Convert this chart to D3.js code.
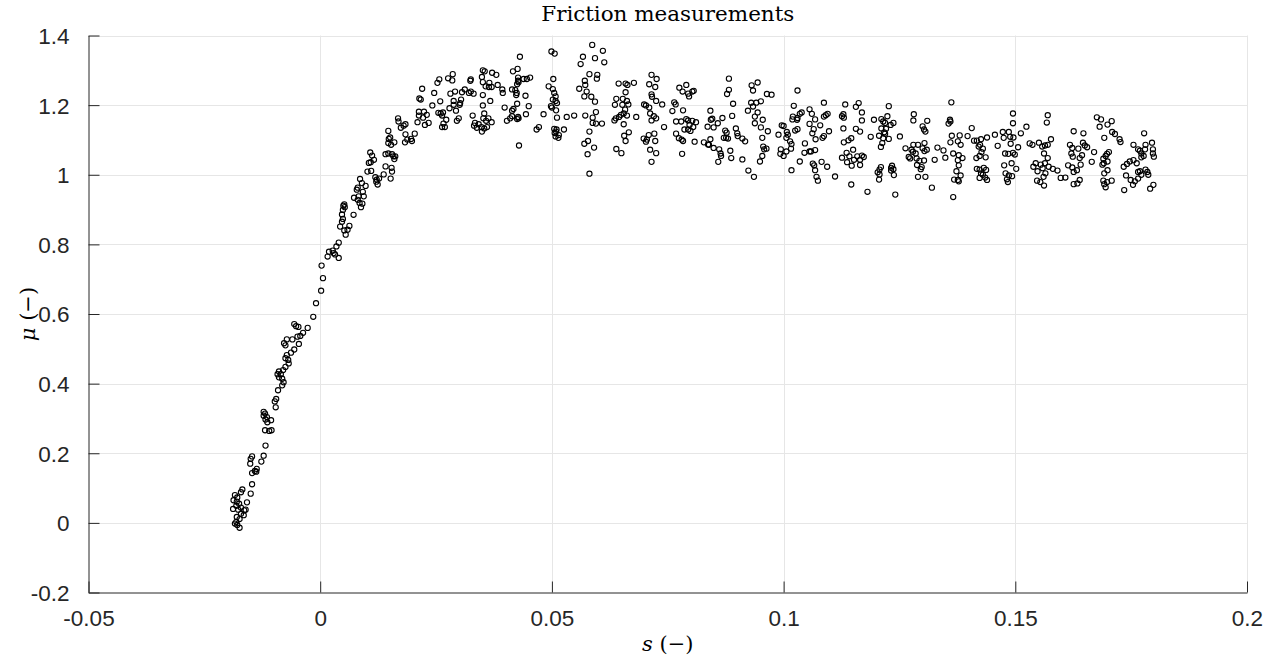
<!DOCTYPE html>
<html>
<head>
<meta charset="utf-8">
<script src="https://cdn.jsdelivr.net/npm/d3@7"></script>
<style>
  html, body { margin: 0; padding: 0; background: #ffffff; }
  svg { display: block; }
</style>
</head>
<body>
<svg id="chart" width="1276" height="662"></svg>
<script>
// ---- Data (s, mu) ----
const risingPoints = [
  [-0.0009,0.631],[-0.0015,0.592],[-0.0056,0.571],[-0.0052,0.565],[-0.0047,0.563],[-0.0027,0.560],[-0.0037,0.546],
  [-0.0043,0.537],[-0.0049,0.535],[-0.0060,0.527],[-0.0072,0.527],[-0.0078,0.516],[-0.0075,0.510],[-0.0046,0.514],
  [-0.0056,0.498],[-0.0063,0.489],[-0.0072,0.482],[-0.0075,0.473],[-0.0069,0.468],[-0.0068,0.458],[-0.0075,0.448],
  [-0.0080,0.439],[-0.0089,0.435],[-0.0092,0.427],[-0.0085,0.427],[-0.0089,0.418],[-0.0082,0.414],[-0.0079,0.404],
  [-0.0082,0.395],[-0.0091,0.381],[-0.0095,0.356],[-0.0098,0.349],[-0.0096,0.332],[-0.0122,0.319],[-0.0119,0.314],
  [-0.0122,0.308],[-0.0115,0.304],[-0.0118,0.297],[-0.0114,0.289],[-0.0106,0.295],[-0.0119,0.266],[-0.0110,0.264],
  [-0.0105,0.266],[-0.0118,0.222],[-0.0147,0.191],[-0.0150,0.184],[-0.0122,0.193],[-0.0127,0.176],[-0.0151,0.170],
  [-0.0137,0.155],[-0.0141,0.149],[-0.0147,0.143],[-0.0138,0.147],[-0.0147,0.111],[-0.0150,0.084],
  [-0.0168,0.096],[-0.0171,0.088],[-0.0184,0.080],[-0.0179,0.073],[-0.0187,0.065],[-0.0180,0.061],[-0.0175,0.055],
  [-0.0158,0.059],[-0.0181,0.049],[-0.0188,0.040],[-0.0177,0.038],[-0.0171,0.044],[-0.0164,0.036],[-0.0161,0.038],
  [-0.0171,0.026],[-0.0180,0.017],[-0.0174,0.011],[-0.0181,0.003],[-0.0184,-0.002],[-0.0174,-0.014],[-0.0179,-0.006],
  [-0.0165,0.022],
  [0.0002,0.667],[0.0006,0.703],[0.0003,0.739],[0.0019,0.779],[0.0016,0.765],[0.0027,0.782],[0.0032,0.771],
  [0.0035,0.794],[0.0040,0.805],[0.0040,0.761],[0.0029,0.775],
  [0.0043,0.851],[0.0047,0.865],[0.0052,0.840],[0.0059,0.842],[0.0055,0.828],[0.0063,0.853],[0.0049,0.873],
  [0.0047,0.886],[0.0049,0.899],[0.0050,0.911],[0.0052,0.915],[0.0053,0.907],[0.0072,0.885],
  [0.0073,0.934],[0.0081,0.963],[0.0079,0.957],[0.0086,0.988],[0.0083,0.938],[0.0088,0.907],[0.0085,0.919],
  [0.0091,0.917],[0.0094,0.938],[0.0092,0.951],[0.0098,0.968],[0.0081,0.928],[0.0090,0.976],
  [0.0108,1.064],[0.0105,1.034],[0.0109,1.036],[0.0116,1.043],[0.0110,1.011],[0.0102,1.009],[0.0112,1.055],
  [0.0119,0.993],[0.0121,0.980],[0.0124,0.972],[0.0122,0.986],[0.0127,0.989],
  [0.0147,1.126],[0.0148,1.103],[0.0147,1.091],[0.0153,1.086],[0.0160,1.093],[0.0151,1.107],
  [0.0141,1.059],[0.0147,1.061],[0.0155,1.059],[0.0158,1.053],[0.0162,1.053],[0.0160,1.045],
  [0.0141,1.024],[0.0137,1.001],[0.0154,1.020],[0.0155,1.009],[0.0152,0.989],
  [0.0168,1.162],[0.0169,1.153],[0.0174,1.135],[0.0180,1.141],[0.0184,1.145],
  [0.0184,1.116],[0.0204,1.118],[0.0183,1.093],[0.0188,1.101],[0.0196,1.103],[0.0198,1.097],
  [0.0213,1.181],[0.0213,1.170],[0.0224,1.181],[0.0222,1.164],[0.0230,1.172],[0.0210,1.151],[0.0226,1.143],
  [0.0234,1.149],[0.0217,1.216]
];

const peakPoints = [
  [0.0214,1.219],[0.0220,1.247],[0.0246,1.235],[0.0242,1.199],[0.0259,1.211],[0.0253,1.264],[0.0257,1.274],
  [0.0276,1.277],[0.0286,1.289],[0.0285,1.271],
  [0.0255,1.178],[0.0260,1.176],[0.0265,1.179],[0.0263,1.170],[0.0272,1.158],[0.0266,1.147],[0.0263,1.137],[0.0269,1.137],
  [0.0281,1.233],[0.0291,1.239],[0.0288,1.212],[0.0279,1.191],[0.0288,1.201],[0.0293,1.184],[0.0299,1.162],
  [0.0295,1.155],[0.0302,1.206],[0.0304,1.216],[0.0301,1.201],
  [0.0306,1.237],[0.0312,1.245],[0.0321,1.235],[0.0325,1.239],[0.0331,1.233],[0.0325,1.274],[0.0324,1.270],
  [0.0329,1.170],[0.0334,1.149],[0.0332,1.141],[0.0342,1.145],[0.0338,1.135],[0.0348,1.137],[0.0349,1.124],
  [0.0351,1.300],[0.0355,1.297],[0.0371,1.293],[0.0380,1.287],[0.0349,1.281],[0.0351,1.266],[0.0357,1.254],
  [0.0365,1.264],[0.0364,1.252],[0.0370,1.252],[0.0383,1.258],[0.0393,1.245],[0.0394,1.235],[0.0351,1.229],[0.0367,1.212],
  [0.0351,1.199],[0.0354,1.176],[0.0363,1.162],[0.0358,1.155],[0.0352,1.162],[0.0370,1.151],[0.0360,1.137],[0.0354,1.133],
  [0.0398,1.193],[0.0403,1.155],[0.0410,1.162],[0.0414,1.184],[0.0417,1.189],[0.0414,1.168],[0.0427,1.166],
  [0.0428,1.162],[0.0425,1.160],
  [0.0416,1.297],[0.0426,1.304],[0.0431,1.339],[0.0414,1.245],[0.0421,1.243],[0.0424,1.235],[0.0427,1.279],
  [0.0427,1.270],[0.0428,1.266],[0.0425,1.260],[0.0439,1.275],[0.0446,1.275],[0.0453,1.279],[0.0443,1.227],
  [0.0425,1.204],[0.0423,1.229],[0.0429,1.084],[0.0450,1.197],[0.0444,1.174],[0.0472,1.137],[0.0467,1.130],[0.0482,1.174],
  [0.0499,1.354],[0.0506,1.348],[0.0503,1.275],[0.0493,1.254],[0.0502,1.246],[0.0505,1.235],[0.0508,1.225],
  [0.0502,1.216],[0.0508,1.212],[0.0511,1.206],[0.0500,1.193],[0.0509,1.185],[0.0511,1.164],[0.0505,1.132],
  [0.0509,1.124],[0.0508,1.110],[0.0514,1.106],[0.0498,1.197],
  [0.0562,1.318],[0.0567,1.339],[0.0587,1.373],[0.0593,1.335],[0.0610,1.356],[0.0613,1.323],
  [0.0581,1.289],[0.0571,1.270],[0.0572,1.258],[0.0559,1.247],[0.0575,1.239],[0.0570,1.225],[0.0585,1.224],
  [0.0593,1.210],[0.0598,1.287],[0.0597,1.276],
  [0.0532,1.166],[0.0548,1.170],[0.0572,1.170],[0.0588,1.164],[0.0595,1.180],[0.0588,1.149],[0.0595,1.147],
  [0.0608,1.147],[0.0526,1.130],[0.0510,1.130],[0.0515,1.114],[0.0506,1.120],
  [0.0581,1.124],[0.0578,1.097],[0.0570,1.089],[0.0591,1.078],[0.0577,1.059],[0.0581,1.003],
  [0.0639,1.218],[0.0636,1.201],[0.0644,1.262],[0.0659,1.262],[0.0663,1.258],[0.0677,1.264],[0.0659,1.237],
  [0.0653,1.218],[0.0662,1.212],[0.0665,1.202],[0.0652,1.201],[0.0658,1.187],[0.0655,1.176],[0.0649,1.172],
  [0.0645,1.166],[0.0638,1.162],[0.0635,1.156],[0.0662,1.170],[0.0682,1.166],[0.0655,1.145],[0.0666,1.122],
  [0.0656,1.112],[0.0659,1.097],[0.0639,1.074],[0.0650,1.062],
  [0.0715,1.287],[0.0726,1.275],[0.0710,1.260],[0.0723,1.252],[0.0715,1.231],[0.0716,1.224],[0.0725,1.212],
  [0.0738,1.202],[0.0699,1.202],[0.0703,1.199],[0.0710,1.193],[0.0712,1.176],[0.0720,1.168],[0.0725,1.162],
  [0.0715,1.156],[0.0742,1.137],[0.0698,1.104],[0.0709,1.114],[0.0705,1.101],[0.0721,1.118],[0.0723,1.097],
  [0.0703,1.095],[0.0712,1.072],[0.0725,1.062],[0.0715,1.037],
  [0.0775,1.250],[0.0790,1.258],[0.0782,1.239],[0.0794,1.233],[0.0803,1.239],[0.0806,1.241],[0.0796,1.225],
  [0.0764,1.208],[0.0767,1.202],[0.0760,1.183],[0.0783,1.185],[0.0779,1.153],[0.0768,1.153],[0.0790,1.160],
  [0.0794,1.156],[0.0803,1.155],[0.0811,1.151],[0.0797,1.143],[0.0805,1.137],[0.0794,1.130],[0.0786,1.130],
  [0.0799,1.126],[0.0768,1.118],[0.0774,1.105],[0.0780,1.101],[0.0783,1.097],[0.0808,1.095],[0.0828,1.093],
  [0.0837,1.087],[0.0781,1.060]
];

const plateauPoints = [
  [0.0882,1.276],[0.0882,1.244],[0.0878,1.232],[0.0891,1.204],[0.0889,1.169],[0.0868,1.163],[0.0842,1.184],
  [0.0843,1.158],[0.0846,1.161],[0.0836,1.138],[0.0849,1.136],[0.0858,1.148],[0.0842,1.102],[0.0839,1.086],
  [0.0849,1.077],[0.0861,1.073],[0.0864,1.061],[0.0865,1.054],[0.0859,1.037],[0.0874,1.127],[0.0877,1.121],
  [0.0876,1.106],[0.0880,1.104],[0.0871,1.106],[0.0885,1.069],[0.0887,1.048],[0.0897,1.133],[0.0900,1.119],
  [0.0901,1.111],[0.0911,1.104],[0.0917,1.096],[0.0911,1.044],
  [0.0931,1.257],[0.0934,1.242],[0.0944,1.265],[0.0964,1.232],[0.0974,1.230],[0.0930,1.207],[0.0941,1.207],
  [0.0951,1.211],[0.0934,1.196],[0.0923,1.184],[0.0944,1.179],[0.0938,1.167],[0.0955,1.158],[0.0938,1.148],
  [0.0951,1.136],[0.0966,1.125],[0.0954,1.106],[0.0956,1.081],[0.0963,1.075],[0.0958,1.073],[0.0954,1.054],
  [0.0949,1.038],[0.0924,1.012],[0.0936,0.994],
  [0.0996,1.142],[0.1000,1.140],[0.0989,1.115],[0.1007,1.123],[0.1009,1.115],[0.1006,1.106],[0.1014,1.096],
  [0.1017,1.088],[0.1016,1.075],[0.1006,1.067],[0.0994,1.073],[0.0993,1.060],[0.1000,1.054],[0.1017,1.013],
  [0.1030,1.242],[0.1022,1.198],[0.1020,1.167],[0.1019,1.159],[0.1029,1.158],[0.1035,1.175],[0.1039,1.179],
  [0.1030,1.163],[0.1025,1.127],[0.1030,1.131],[0.1046,1.090],[0.1045,1.063],[0.1056,1.067],[0.1059,1.067],
  [0.1068,1.071],[0.1035,1.038],[0.1056,1.188],[0.1061,1.175],[0.1068,1.159],[0.1056,1.146],[0.1065,1.131],
  [0.1062,1.119],[0.1069,1.102],[0.1079,1.142],[0.1087,1.167],[0.1091,1.171],[0.1087,1.207],[0.1095,1.175],
  [0.1098,1.125],[0.1087,1.111],[0.1084,1.106],[0.1063,1.032],[0.1066,1.027],[0.1068,1.013],[0.1071,0.994],
  [0.1074,0.983],[0.1082,1.037],[0.1094,1.023],
  [0.1133,1.202],[0.1156,1.195],[0.1162,1.206],[0.1169,1.179],[0.1169,1.156],[0.1129,1.174],[0.1126,1.168],
  [0.1130,1.164],[0.1129,1.133],[0.1156,1.132],[0.1165,1.124],[0.1146,1.105],[0.1140,1.099],[0.1130,1.093],
  [0.1150,1.072],[0.1136,1.063],[0.1126,1.049],[0.1142,1.053],[0.1152,1.043],[0.1159,1.053],[0.1169,1.055],
  [0.1173,1.051],[0.1165,1.043],[0.1137,1.036],[0.1147,1.026],[0.1165,1.028],[0.1111,0.995],[0.1146,0.972],[0.1181,0.951],
  [0.1227,1.197],[0.1195,1.158],[0.1211,1.160],[0.1224,1.168],[0.1215,1.153],[0.1219,1.149],[0.1231,1.143],
  [0.1237,1.149],[0.1211,1.133],[0.1221,1.132],[0.1217,1.122],[0.1219,1.118],[0.1206,1.112],[0.1188,1.109],
  [0.1215,1.105],[0.1227,1.103],[0.1213,1.091],[0.1210,1.080],[0.1251,1.110],[0.1210,1.022],[0.1207,1.015],
  [0.1203,1.007],[0.1207,1.001],[0.1206,0.986],[0.1234,1.026],[0.1232,1.020],[0.1237,1.016],[0.1232,1.012],
  [0.1238,0.999],[0.1241,0.943],
  [0.1281,1.174],[0.1280,1.156],[0.1310,1.155],[0.1300,1.139],[0.1303,1.130],[0.1306,1.124],[0.1280,1.086],
  [0.1290,1.086],[0.1304,1.091],[0.1263,1.076],[0.1276,1.072],[0.1279,1.066],[0.1285,1.061],[0.1300,1.076],
  [0.1304,1.068],[0.1309,1.072],[0.1270,1.051],[0.1273,1.047],[0.1287,1.047],[0.1293,1.040],[0.1303,1.041],
  [0.1288,1.028],[0.1298,1.022],[0.1296,1.016],[0.1290,0.994],[0.1306,0.994],[0.1320,0.963],[0.1332,1.078],
  [0.1326,1.043],[0.1345,1.070],[0.1349,1.049],
  [0.1362,1.208],[0.1359,1.158],[0.1356,1.147],[0.1360,1.153],[0.1363,1.112],[0.1360,1.093],[0.1366,1.061],
  [0.1368,0.986],[0.1366,0.936]
];

const tailPoints = [
  [0.1380,1.113],[0.1382,1.086],[0.1376,1.096],[0.1378,1.056],[0.1386,1.048],[0.1376,1.042],[0.1378,1.027],
  [0.1373,1.010],[0.1382,0.998],[0.1376,0.985],[0.1378,0.981],
  [0.1406,1.134],[0.1397,1.111],[0.1411,1.098],[0.1417,1.098],[0.1426,1.102],[0.1439,1.107],[0.1424,1.086],
  [0.1421,1.081],[0.1430,1.075],[0.1427,1.065],[0.1423,1.054],[0.1436,1.050],[0.1416,1.048],[0.1417,1.017],
  [0.1423,1.015],[0.1432,1.020],[0.1437,1.014],[0.1426,1.004],[0.1430,1.000],[0.1435,0.992],[0.1439,0.985],[0.1423,0.991],
  [0.1495,1.176],[0.1495,1.148],[0.1524,1.138],[0.1512,1.119],[0.1456,1.115],[0.1473,1.123],[0.1486,1.123],
  [0.1489,1.109],[0.1496,1.107],[0.1475,1.106],[0.1462,1.083],[0.1490,1.089],[0.1506,1.079],[0.1478,1.061],
  [0.1485,1.060],[0.1495,1.063],[0.1499,1.058],[0.1476,1.027],[0.1492,1.033],[0.1502,1.017],[0.1479,1.004],
  [0.1486,0.998],[0.1493,0.996],[0.1482,0.987],[0.1484,0.979],
  [0.1570,1.171],[0.1568,1.150],[0.1531,1.090],[0.1537,1.086],[0.1551,1.092],[0.1558,1.081],[0.1564,1.084],
  [0.1570,1.086],[0.1577,1.102],[0.1562,1.061],[0.1570,1.048],[0.1544,1.033],[0.1555,1.029],[0.1564,1.033],
  [0.1539,1.023],[0.1548,1.010],[0.1559,1.019],[0.1572,1.023],[0.1581,1.017],[0.1565,1.004],[0.1561,0.994],
  [0.1547,0.983],[0.1554,0.979],[0.1562,0.969],[0.1591,1.012],[0.1598,0.991],[0.1608,0.992],
  [0.1626,1.125],[0.1618,1.086],[0.1623,1.077],[0.1621,1.061],[0.1624,1.052],[0.1614,1.027],[0.1623,1.021],
  [0.1626,1.008],[0.1626,0.973],
  [0.1647,1.119],[0.1646,1.092],[0.1650,1.084],[0.1636,1.075],[0.1644,1.056],[0.1639,1.048],[0.1641,1.029],
  [0.1633,1.013],[0.1639,0.985],[0.1634,0.975],[0.1655,1.079],[0.1665,1.037],[0.1670,1.065],
  [0.1676,1.165],[0.1685,1.159],[0.1682,1.138],[0.1699,1.144],[0.1708,1.154],[0.1709,1.123],[0.1715,1.117],
  [0.1692,1.106],[0.1725,1.102],[0.1727,1.094],[0.1702,1.065],[0.1698,1.060],[0.1695,1.054],[0.1690,1.046],
  [0.1691,1.033],[0.1699,1.038],[0.1688,1.029],[0.1699,1.013],[0.1692,1.004],[0.1690,0.983],[0.1698,0.979],
  [0.1692,0.973],[0.1708,0.983],[0.1695,0.964],
  [0.1735,0.956],[0.1734,1.023],[0.1741,1.031],[0.1747,1.038],[0.1755,1.042],[0.1762,1.033],[0.1739,0.998],
  [0.1749,0.985],[0.1754,0.971],[0.1758,0.981],[0.1765,0.989],[0.1765,1.008],[0.1769,1.010],[0.1772,1.000],
  [0.1781,1.015],[0.1785,1.008],[0.1787,1.000],[0.1791,0.960],[0.1798,0.971],[0.1755,1.086],[0.1765,1.073],
  [0.1769,1.069],[0.1772,1.061],[0.1777,1.054],[0.1780,1.073],[0.1781,1.086],[0.1778,1.119],[0.1772,1.050],
  [0.1795,1.092],[0.1797,1.073],[0.1799,1.052],[0.1797,1.061]
];

const xTicks = [-0.05, 0, 0.05, 0.1, 0.15, 0.2];
const xTickLabels = ["-0.05", "0", "0.05", "0.1", "0.15", "0.2"];
const yTicks = [-0.2, 0, 0.2, 0.4, 0.6, 0.8, 1, 1.2, 1.4];
const yTickLabels = ["-0.2", "0", "0.2", "0.4", "0.6", "0.8", "1", "1.2", "1.4"];
const titleText = "Friction measurements";

// ---- Drawing ----
const allPoints = risingPoints.concat(peakPoints, plateauPoints, tailPoints);
const svg = d3.select("#chart");
const plot = { left: 88.5, right: 1247, top: 35.5, bottom: 592.5 };

const x = d3.scaleLinear().domain([-0.05, 0.2]).range([plot.left, plot.right]);
const y = d3.scaleLinear().domain([-0.2, 1.4]).range([plot.bottom, plot.top]);

const tickFont = "'Liberation Sans', Arial, Helvetica, sans-serif";
const serifFont = "'DejaVu Serif', 'Liberation Serif', serif";

// grid
const grid = svg.append("g");
grid.selectAll("line.vg").data(xTicks.slice(1)).enter().append("line")
  .attr("x1", d => Math.round(x(d)) + 0.5).attr("x2", d => Math.round(x(d)) + 0.5)
  .attr("y1", plot.top).attr("y2", plot.bottom)
  .attr("stroke", "#e6e6e6").attr("stroke-width", 1);
grid.selectAll("line.hg").data(yTicks.slice(1)).enter().append("line")
  .attr("y1", d => Math.round(y(d)) + 0.5).attr("y2", d => Math.round(y(d)) + 0.5)
  .attr("x1", plot.left).attr("x2", plot.right)
  .attr("stroke", "#e6e6e6").attr("stroke-width", 1);

// axes
const xAxis = d3.axisBottom(x).tickValues(xTicks)
  .tickFormat((d, i) => xTickLabels[i]).tickSizeInner(-11).tickSizeOuter(0).tickPadding(18);
const yAxis = d3.axisLeft(y).tickValues(yTicks)
  .tickFormat((d, i) => yTickLabels[i]).tickSizeInner(-11).tickSizeOuter(0).tickPadding(19);

const gx = svg.append("g").attr("transform", `translate(0,${plot.bottom})`).call(xAxis);
const gy = svg.append("g").attr("transform", `translate(${plot.left},0)`).call(yAxis);
[gx, gy].forEach(g => {
  g.select(".domain").attr("stroke", "#262626").attr("stroke-width", 1);
  g.selectAll(".tick line").attr("stroke", "#262626").attr("stroke-width", 1);
  g.selectAll(".tick text").attr("fill", "#262626")
    .style("font-family", tickFont).style("font-size", "22.5px");
});
gx.selectAll(".tick text").attr("dy", "0.71em");
gy.selectAll(".tick text").attr("dy", "0.35em");

// points
svg.append("g").selectAll("circle").data(allPoints).enter().append("circle")
  .attr("cx", d => x(d[0])).attr("cy", d => y(d[1]))
  .attr("r", 2.6)
  .attr("fill", "none").attr("stroke", "#000").attr("stroke-width", 1.1);

// title
svg.append("text")
  .attr("x", (plot.left + plot.right) / 2).attr("y", 21)
  .attr("text-anchor", "middle")
  .attr("textLength", 253).attr("lengthAdjust", "spacingAndGlyphs")
  .style("font-family", serifFont).style("font-size", "21px").attr("fill", "#000")
  .text(titleText);

// x label: s (−)
const xl = svg.append("text")
  .attr("x", (plot.left + plot.right) / 2).attr("y", 651)
  .attr("text-anchor", "middle")
  .style("font-family", serifFont).style("font-size", "21px").attr("fill", "#000");
xl.append("tspan").style("font-style", "italic").text("s");
xl.append("tspan").text(" (\u2212)");

// y label: μ (−)
const yl = svg.append("text")
  .attr("transform", `translate(35,${(plot.top + plot.bottom) / 2}) rotate(-90)`)
  .attr("text-anchor", "middle")
  .style("font-family", serifFont).style("font-size", "21px").attr("fill", "#000");
yl.append("tspan").style("font-style", "italic").text("\u03bc");
yl.append("tspan").text(" (\u2212)");
</script>
</body>
</html>
